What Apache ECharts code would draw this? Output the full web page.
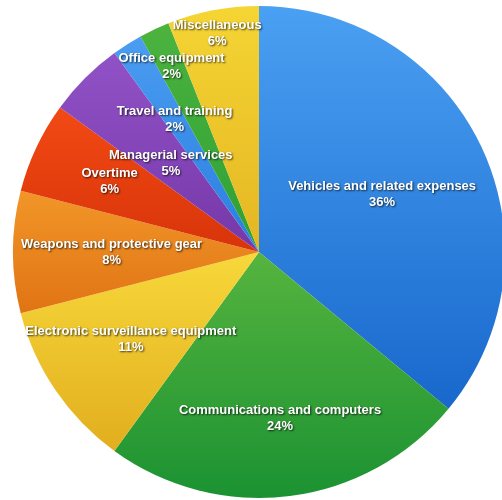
<!DOCTYPE html>
<html>
<head>
<meta charset="utf-8">
<script src="https://cdn.jsdelivr.net/npm/echarts@6/dist/echarts.min.js"></script>
<style>
html,body{margin:0;padding:0;background:#fff;}
#c{width:502px;height:500px;}
</style>
</head>
<body>
<div id="c"></div>
<script>
const categories = [
  'Vehicles and related expenses',
  'Communications and computers',
  'Electronic surveillance equipment',
  'Weapons and protective gear',
  'Overtime',
  'Managerial services',
  'Travel and training',
  'Office equipment',
  'Miscellaneous'
];
const percents = [36, 24, 11, 8, 6, 5, 2, 2, 6];

// styling (not data)
const colorPairs = [
  ['#4aa0f2', '#1868cc'],
  ['#56b43e', '#1b9232'],
  ['#f7d83a', '#e2ae1e'],
  ['#f29628', '#e07414'],
  ['#f24a14', '#d8340a'],
  ['#9052c6', '#7638a8'],
  ['#4a9df0', '#2a7ee0'],
  ['#4cb33e', '#2ea036'],
  ['#f5d534', '#e4b622']
];
const labelRadialScale = [1.08, 1.33, 1.23, 1.17, 1.31, 0.99, 1.25, 1.63, 1.77];

const CX = 259, CY = 252, R = 246;

const chart = echarts.init(document.getElementById('c'), null, {renderer: 'canvas'});
chart.setOption({
  animation: false,
  series: [{
    type: 'pie',
    center: [CX, CY],
    radius: [0, R],
    startAngle: 90,
    clockwise: true,
    avoidLabelOverlap: false,
    minShowLabelAngle: 0,
    itemStyle: {borderWidth: 0},
    label: {
      show: true,
      position: 'inside',
      formatter: '{b}\n{c}%',
      color: '#ffffff',
      fontFamily: 'Liberation Sans, Arial, sans-serif',
      fontWeight: 'bold',
      fontSize: 13,
      lineHeight: 16,
      align: 'center',
      textShadowColor: 'rgba(0,0,0,0.75)',
      textShadowBlur: 2,
      textShadowOffsetX: 1,
      textShadowOffsetY: 1
    },
    labelLine: {show: false},
    labelLayout: function (p) {
      const k = labelRadialScale[p.dataIndex];
      const lx = p.labelRect.x + p.labelRect.width / 2;
      const ly = p.labelRect.y + p.labelRect.height / 2;
      return {dx: (k - 1) * (lx - CX), dy: (k - 1) * (ly - CY)};
    },
    data: categories.map((name, i) => ({
      name: name,
      value: percents[i],
      itemStyle: {
        color: {
          type: 'linear', x: 0, y: 0, x2: 0, y2: 1,
          colorStops: [
            {offset: 0, color: colorPairs[i][0]},
            {offset: 1, color: colorPairs[i][1]}
          ]
        }
      }
    }))
  }]
});
</script>
</body>
</html>
